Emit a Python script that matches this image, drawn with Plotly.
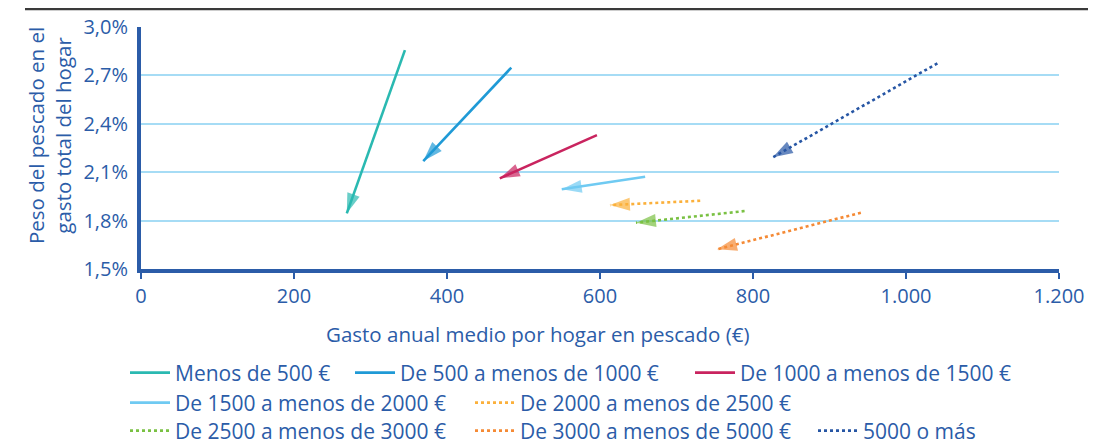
import plotly.graph_objects as go

# Tramos de gasto total del hogar
TRAMOS = [
    "Menos de 500 €",
    "De 500 a menos de 1000 €",
    "De 1000 a menos de 1500 €",
    "De 1500 a menos de 2000 €",
    "De 2000 a menos de 2500 €",
    "De 2500 a menos de 3000 €",
    "De 3000 a menos de 5000 €",
    "5000 o más",
]

# Origen de cada flecha (gasto €, peso %)
GASTO_INICIO = [345, 484, 596, 659, 731, 789, 941, 1041]
PESO_INICIO = [2.857, 2.748, 2.330, 2.072, 1.923, 1.859, 1.849, 2.775]

# Destino de cada flecha
GASTO_FIN = [269, 369, 469, 550, 613, 647, 753, 826]
PESO_FIN = [1.845, 2.169, 2.062, 1.994, 1.896, 1.787, 1.622, 2.192]

X_TICKS = [0, 200, 400, 600, 800, 1000, 1200]
Y_TICKS = [1.5, 1.8, 2.1, 2.4, 2.7, 3.0]
Y_TICK_LABELS = ["1,5%", "1,8%", "2,1%", "2,4%", "2,7%", "3,0%"]

COLORES = ["#2ab9b1", "#1f9ad6", "#c9245f", "#6fcaf2",
           "#fbb03b", "#7ac143", "#f58a35", "#2756a4"]
ESTILOS = ["solid", "solid", "solid", "solid", "dot", "dot", "dot", "dot"]

AZUL = "#2b5ca8"
FONT = "Open Sans, sans-serif"

# la pagina deja 8 px de margen al body: todo se mide en px de pagina y se resta
OFF = 8
W, H = 1096 - OFF, 445 - OFF
PLOT_L, PLOT_R, PLOT_T, PLOT_B = 141, 1059, 27, 269  # px de pagina
M_L, M_R = PLOT_L - OFF, W - (PLOT_R - OFF)
M_T, M_B = PLOT_T - OFF, H - (PLOT_B - OFF)
PW, PH = PLOT_R - PLOT_L, PLOT_B - PLOT_T


def px_x(p):
    return (p - PLOT_L) / PW


def px_y(p):
    return (PLOT_B - p) / PH


# posicion (inicio de linea, centro vertical) de cada entrada de leyenda, px de pagina
LEYENDA_POS = [(130, 373), (355, 373), (695, 373),
               (130, 403), (475, 403),
               (130, 431), (475, 431), (818, 431)]

fig = go.Figure()
layout_leyendas = {}
for i, nombre in enumerate(TRAMOS):
    lid = "legend" if i == 0 else f"legend{i + 1}"
    fig.add_trace(go.Scatter(
        x=[GASTO_INICIO[i], GASTO_FIN[i]],
        y=[PESO_INICIO[i], PESO_FIN[i]],
        mode="lines",
        name=nombre,
        legend=lid,
        legendgroup=nombre,
        line={"color": COLORES[i], "width": 2.6, "dash": ESTILOS[i]},
    ))
    fig.add_trace(go.Scatter(
        x=[GASTO_INICIO[i], GASTO_FIN[i]],
        y=[PESO_INICIO[i], PESO_FIN[i]],
        mode="markers",
        showlegend=False,
        legendgroup=nombre,
        marker={"symbol": "arrow", "angleref": "previous", "size": [0, 21],
                "color": COLORES[i], "line": {"width": 0}},
        hoverinfo="skip",
    ))
    lx, ly = LEYENDA_POS[i]
    layout_leyendas[lid] = {
        "x": px_x(lx - 5), "xanchor": "left",
        "y": px_y(ly), "yanchor": "middle",
        "orientation": "h",
        "bgcolor": "rgba(0,0,0,0)",
        "itemwidth": 40,
        "font": {"family": FONT, "size": 21, "color": AZUL},
    }

fig.update_layout(
    width=W, height=H,
    margin={"l": M_L, "r": M_R, "t": M_T, "b": M_B, "autoexpand": False},
    paper_bgcolor="white",
    plot_bgcolor="white",
    separators=",.",
    font={"family": FONT, "size": 20, "color": AZUL},
    **layout_leyendas,
)

fig.update_xaxes(
    range=[0, 1200],
    tickvals=X_TICKS,
    separatethousands=True,
    showgrid=False,
    zeroline=False,
    showline=True, linewidth=4, linecolor=AZUL,
    ticks="outside", ticklen=6, tickwidth=2, tickcolor=AZUL,
    tickfont={"family": FONT, "size": 20, "color": AZUL},
)
fig.update_yaxes(
    range=[1.5, 3.0],
    tickvals=Y_TICKS,
    ticktext=Y_TICK_LABELS,
    showgrid=True, gridcolor="#a6dcf5", gridwidth=1.5,
    zeroline=False,
    showline=True, linewidth=4, linecolor=AZUL,
    ticklabelstandoff=5,
    tickfont={"family": FONT, "size": 20, "color": AZUL},
)

fig.add_annotation(
    text="Gasto anual medio por hogar en pescado (€)",
    xref="paper", yref="paper", x=px_x(537), y=px_y(334),
    xanchor="center", yanchor="middle",
    showarrow=False, font={"family": FONT, "size": 20.5, "color": AZUL},
)
fig.add_annotation(
    text="Peso del pescado en el<br>gasto total del hogar",
    xref="paper", yref="paper", x=px_x(49), y=px_y(136),
    xanchor="center", yanchor="middle",
    textangle=-90, showarrow=False,
    font={"family": FONT, "size": 20.5, "color": AZUL},
)
fig.add_shape(
    type="line", xref="paper", yref="paper",
    x0=px_x(25), x1=px_x(1096), y0=px_y(OFF + 1), y1=px_y(OFF + 1),
    line={"color": "#3a3a3a", "width": 2.5},
)

fig.write_html("out.html")
